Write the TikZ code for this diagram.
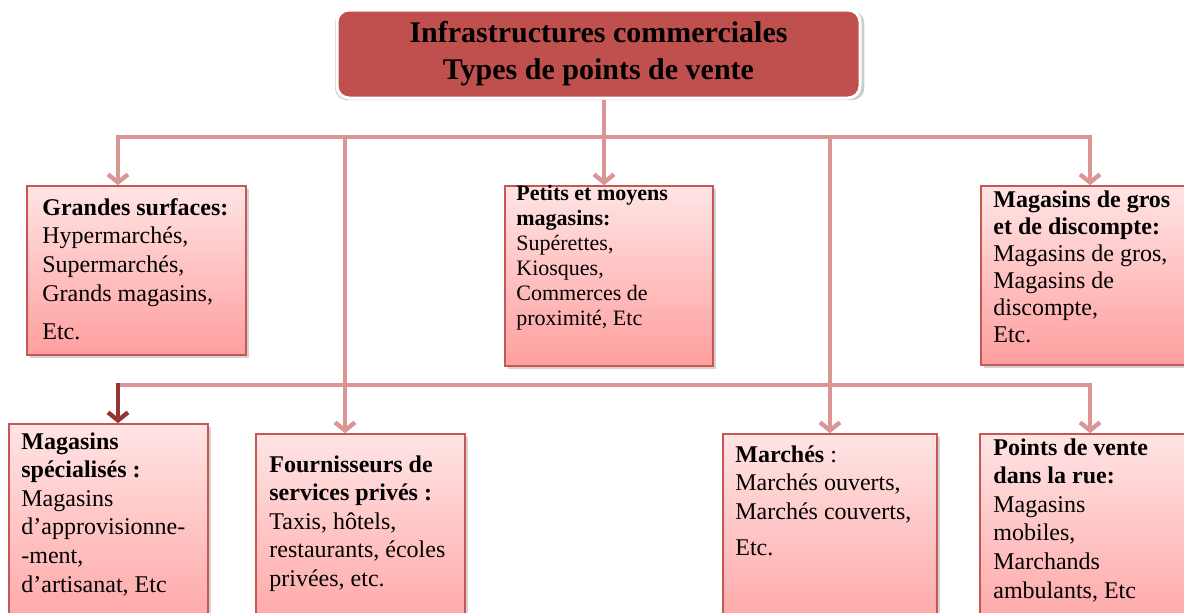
\documentclass[tikz,border=0pt]{standalone}
\usepackage{fontspec}
\setmainfont{Liberation Serif}
\usetikzlibrary{arrows.meta}
\usetikzlibrary{fit}
\usetikzlibrary{shadows}
\definecolor{titlered}{HTML}{C0504D}
\definecolor{boxedge}{HTML}{C65854}
\definecolor{boxtop}{HTML}{FFE4E4}
\definecolor{boxbot}{HTML}{FF9F9F}
\definecolor{linkpink}{HTML}{D99694}
\definecolor{linkdark}{HTML}{943634}

\begin{document}
\begin{tikzpicture}[x=0.5pt,y=-0.5pt,
    >={Straight Barb[length=4pt,width=10pt]},
    link/.style={draw=linkpink,line width=2.2pt},
    darklink/.style={draw=linkdark,line width=2.2pt},
    catbox/.style={draw=boxedge,line width=0.8pt,top color=boxtop,bottom color=boxbot,
      inner sep=0pt,drop shadow={shadow xshift=1.5pt,shadow yshift=-1.5pt,opacity=0.35}},
    cattext/.style={anchor=north west,align=left,inner sep=0pt,font=\fontsize{12}{14.3}\selectfont},
    titlebox/.style={fill=titlered,draw=white,line width=1.5pt,rounded corners=6pt,inner sep=0pt,
      minimum width=261.5pt,minimum height=44pt,align=center,
      font=\fontsize{15}{18.5}\selectfont\bfseries,
      drop shadow={shadow xshift=0.6pt,shadow yshift=-0.8pt,shadow scale=1.012,opacity=0.4}}]
    \clip (0,0) rectangle (1184,612);

    % head
    \node[titlebox] (title) at (598.5,54) {Infrastructures commerciales\\Types de points de vente};

    % first row
    \node[catbox, fit={(27,186) (246,355)}] (gs) {};
    \node[cattext] (gstxt) at (42,198) {\textbf{Grandes surfaces:}\\Hypermarchés,\\Supermarchés,\\Grands magasins,\\[5pt]Etc.};

    \node[catbox, fit={(505,186) (713,366)}] (pm) {};
    \node[cattext, font=\fontsize{11}{12.5}\selectfont] (pmtxt) at (516,185)
      {\textbf{Petits et moyens}\\\textbf{magasins:}\\Supérettes,\\Kiosques,\\Commerces de\\proximité, Etc};

    \node[catbox, fit={(981,186) (1200,365)}] (mg) {};
    \node[cattext, font=\fontsize{12}{13.5}\selectfont] (mgtxt) at (993,190)
      {\textbf{Magasins de gros}\\\textbf{et de discompte:}\\Magasins de gros,\\Magasins de\\discompte,\\Etc.};

    % second row
    \node[catbox, fit={(9,424) (208,650)}] (ms) {};
    \node[cattext] (mstxt) at (21,432)
      {\textbf{Magasins}\\\textbf{spécialisés :}\\Magasins\\d’approvisionne-\\-ment,\\d’artisanat, Etc};

    \node[catbox, fit={(256,434) (465,650)}] (fp) {};
    \node[cattext] (fptxt) at (269,455)
      {\textbf{Fournisseurs de}\\\textbf{services privés :}\\Taxis, hôtels,\\restaurants, écoles\\privées, etc.};

    \node[catbox, fit={(723,434) (937,650)}] (ma) {};
    \node[cattext] (matxt) at (735,445)
      {\textbf{Marchés} :\\Marchés ouverts,\\Marchés couverts,\\[4pt]Etc.};

    \node[catbox, fit={(980,434) (1200,650)}] (pv) {};
    \node[cattext] (pvtxt) at (993,438)
      {\textbf{Points de vente}\\\textbf{dans la rue:}\\Magasins\\mobiles,\\Marchands\\ambulants, Etc};

    % links
    \coordinate (j1) at (604,137);
    \coordinate (l1) at (118,137);
    \coordinate (r1) at (1090,137);
    \coordinate (v1) at (345,137);
    \coordinate (v2) at (830,137);
    \coordinate (l2) at (118,385);
    \coordinate (r2) at (1090,385);

    \draw[link] (j1 |- title.south) -- (j1);
    \draw[link,<->] (l1 |- gs.north) -- (l1) -- (r1) -- (r1 |- mg.north);
    \draw[link,->] (j1) -- (j1 |- pm.north);
    \draw[link,->] (v1) -- (v1 |- fp.north);
    \draw[link,->] (v2) -- (v2 |- ma.north);
    \draw[link,->] (l2) -- (r2) -- (r2 |- pv.north);
    \draw[darklink,->] ([yshift=1.1pt]l2) -- (l2 |- ms.north);
\end{tikzpicture}
\end{document}
